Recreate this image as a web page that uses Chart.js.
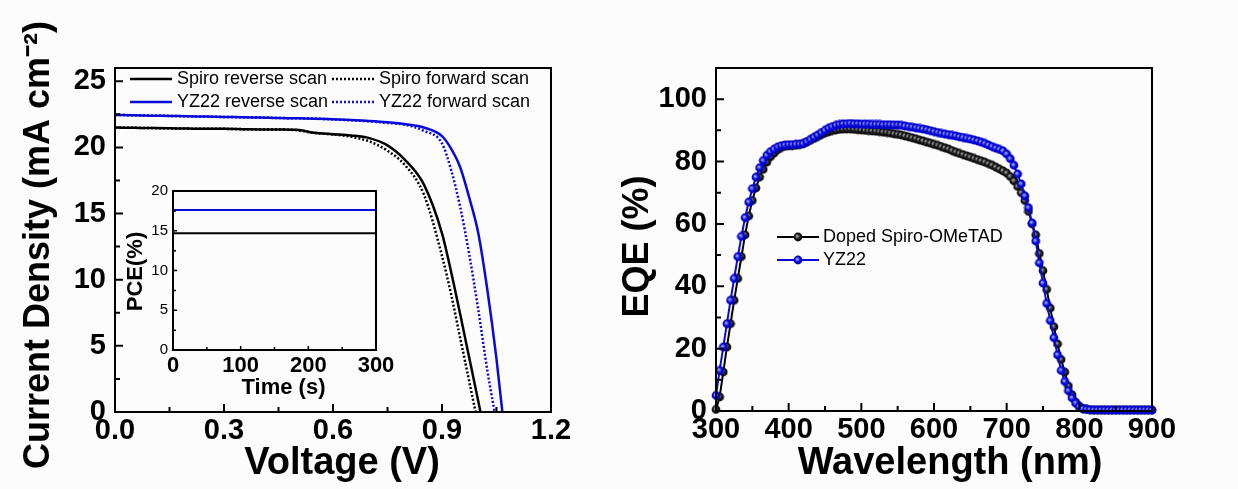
<!DOCTYPE html>
<html lang="en">
<head>
<meta charset="UTF-8">
<title>J-V and EQE – Spiro vs YZ22</title>
<script src="https://cdn.jsdelivr.net/npm/chart.js"></script>
<style>
    body {
        margin: 0;
        background: #fcfcfc;
        width: 1238px;
        height: 489px;
        overflow: hidden;
        position: relative;
    }
    canvas { position: absolute; }
    #jvCanvas { left: 0; top: 0; }
    #insetCanvas { left: 100px; top: 170px; }
    #eqeCanvas { left: 600px; top: 0; }
</style>
</head>
<body>
<canvas id="jvCanvas" width="600" height="489"></canvas>
<canvas id="insetCanvas" width="300" height="240"></canvas>
<canvas id="eqeCanvas" width="638" height="489"></canvas>

<script>
const FONT = "'Liberation Sans', Arial, sans-serif";
const BLUE = '#0a0ad8';

// J-V curves (V, mA cm-2)
const voltage      = [0, 0.05, 0.1, 0.15, 0.2, 0.25, 0.3, 0.35, 0.4, 0.45, 0.5, 0.55, 0.6, 0.65, 0.7, 0.75, 0.8, 0.85, 0.9, 0.925, 0.95, 0.975, 1.0, 1.025, 1.05, 1.075, 1.1];
const spiroReverse = [21.5, 21.48, 21.46, 21.44, 21.42, 21.4, 21.4, 21.38, 21.36, 21.35, 21.33, 21.1, 21.0, 20.9, 20.7, 20.15, 19.0, 17.2, 13.5, 10.6, 7.4, 4.1, 0.8, -2.6, -6, -9.5, -13];
const spiroForward = [21.5, 21.48, 21.46, 21.44, 21.42, 21.4, 21.4, 21.38, 21.36, 21.35, 21.3, 21.08, 20.98, 20.8, 20.45, 19.75, 18.6, 16.45, 11.8, 8.9, 5.6, 2.3, -1.0, -4.4, -8, -11.5, -15];
const yz22Reverse  = [22.45, 22.43, 22.4, 22.38, 22.35, 22.33, 22.3, 22.28, 22.25, 22.22, 22.2, 22.17, 22.12, 22.07, 22.0, 21.9, 21.75, 21.5, 20.85, 19.9, 18.5, 16.2, 13.5, 9.2, 4.0, -2.2, -9];
const yz22Forward  = [22.45, 22.43, 22.4, 22.38, 22.35, 22.33, 22.3, 22.28, 22.25, 22.22, 22.2, 22.17, 22.12, 22.05, 21.97, 21.85, 21.7, 21.25, 20.3, 18.3, 15.5, 11.9, 7.7, 3.1, -0.8, -5, -10];

// inset: stabilised PCE (%)
const time     = [0, 50, 100, 150, 200, 250, 300];
const pceYZ22  = [17.6, 17.6, 17.6, 17.6, 17.6, 17.6, 17.6];
const pceSpiro = [14.7, 14.7, 14.7, 14.7, 14.7, 14.7, 14.7];

// EQE (%)
const wavelength = [300, 305, 310, 315, 320, 325, 330, 335, 340, 345, 350, 355, 360, 365, 370, 375, 380, 385, 390, 395,
    400, 405, 410, 415, 420, 425, 430, 435, 440, 445, 450, 455, 460, 465, 470, 475, 480, 485, 490, 495,
    500, 505, 510, 515, 520, 525, 530, 535, 540, 545, 550, 555, 560, 565, 570, 575, 580, 585, 590, 595,
    600, 605, 610, 615, 620, 625, 630, 635, 640, 645, 650, 655, 660, 665, 670, 675, 680, 685, 690, 695,
    700, 705, 710, 715, 720, 725, 730, 735, 740, 745, 750, 755, 760, 765, 770, 775, 780, 785, 790, 795,
    800, 805, 810, 815, 820, 825, 830, 835, 840, 845, 850, 855, 860, 865, 870, 875, 880, 885, 890, 895, 900];
const eqeSpiro = [0.5, 4.5, 12.5, 20.5, 28, 35.5, 42.5, 49.5, 56.5, 62.5, 67.5, 71.5, 75, 77.5, 79.8, 81.5, 82.7, 83.8, 84.5, 84.9,
    85, 85.1, 85.2, 85.4, 85.7, 86.2, 86.8, 87.4, 88, 88.6, 89.1, 89.5, 89.9, 90.1, 90.3, 90.4, 90.4, 90.4, 90.3, 90.2,
    90.1, 90, 89.9, 89.8, 89.7, 89.6, 89.4, 89.3, 89.1, 88.9, 88.7, 88.5, 88.2, 87.9, 87.6, 87.3, 86.9, 86.6, 86.2, 85.9,
    85.5, 85.2, 84.8, 84.4, 84, 83.5, 83, 82.6, 82.2, 81.8, 81.4, 81, 80.6, 80.2, 79.8, 79.3, 78.8, 78.2, 77.6, 77,
    76.3, 75.2, 73.8, 72, 70, 67.5, 64, 60, 56.5, 50.5, 45, 39, 33, 27, 21.5, 16.5, 12.5, 8, 5.2, 2.8,
    1.5, 0.8, 0.5, 0.4, 0.3, 0.3, 0.3, 0.3, 0.3, 0.3, 0.3, 0.3, 0.3, 0.3, 0.3, 0.3, 0.3, 0.3, 0.3, 0.3, 0.3];
const eqeYZ22 = [5, 13, 20.5, 28, 35.5, 42.5, 49.5, 56, 62, 67, 71.3, 75, 78, 80.3, 82, 83.2, 84, 84.7, 85.1, 85.3,
    85.4, 85.4, 85.5, 85.6, 85.8, 86.4, 87.1, 87.8, 88.5, 89.3, 90, 90.7, 91.2, 91.6, 91.9, 92.1, 92.1, 92.2, 92.1, 92.1,
    92, 92, 92, 91.9, 91.9, 91.9, 91.8, 91.8, 91.8, 91.7, 91.7, 91.6, 91.4, 91.2, 91, 90.8, 90.6, 90.4, 90.2, 89.9,
    89.6, 89.3, 89, 88.8, 88.6, 88.4, 88.2, 87.9, 87.7, 87.4, 87.2, 86.9, 86.6, 86.2, 85.8, 85.3, 84.8, 84.3, 83.9, 83.4,
    82.4, 80.9, 78.8, 76, 72.8, 69, 65.2, 60.3, 54.5, 47.5, 41, 34.5, 29, 23.5, 18, 13, 9.5, 6.5, 4.2, 2.5,
    1.4, 0.7, 0.5, 0.4, 0.3, 0.3, 0.3, 0.3, 0.3, 0.3, 0.3, 0.3, 0.3, 0.3, 0.3, 0.3, 0.3, 0.3, 0.3, 0.3, 0.3];

Chart.defaults.font.family = FONT;
Chart.defaults.color = '#000';

const xy = (xs, ys) => xs.map((x, i) => ({ x: x, y: ys[i] }));

// shaded ball used as marker on the EQE curves
function ball(edge, light) {
    const c = document.createElement('canvas');
    c.width = c.height = 10;
    const g = c.getContext('2d');
    const grad = g.createRadialGradient(4, 4, 0.3, 5, 5, 4.6);
    grad.addColorStop(0, light);
    grad.addColorStop(0.55, edge);
    grad.addColorStop(1, edge);
    g.fillStyle = grad;
    g.beginPath();
    g.arc(5, 5, 4.4, 0, Math.PI * 2);
    g.fill();
    return c;
}

// box around the plot + inward major/minor ticks
const frameTicks = {
    id: 'frameTicks',
    afterDatasetsDraw(chart, args, o) {
        const { ctx, chartArea: a } = chart;
        const xs = chart.scales.x, ys = chart.scales.y;
        ctx.save();
        ctx.strokeStyle = '#000';
        ctx.lineWidth = o.tickWidth;
        ctx.beginPath();
        for (let i = 0; xs.min + i * o.xStep <= xs.max + 1e-9; i++) {
            const px = xs.getPixelForValue(xs.min + i * o.xStep);
            ctx.moveTo(px, a.bottom);
            ctx.lineTo(px, a.bottom - (i % 2 === 0 ? o.major : o.minor));
        }
        for (let i = 0; ys.min + i * o.yStep <= ys.max + 1e-9; i++) {
            const py = ys.getPixelForValue(ys.min + i * o.yStep);
            ctx.moveTo(a.left, py);
            ctx.lineTo(a.left + (i % 2 === 0 ? o.major : o.minor), py);
        }
        ctx.stroke();
        ctx.lineWidth = o.frameWidth;
        ctx.strokeRect(a.left, a.top, a.right - a.left, a.bottom - a.top);
        ctx.restore();
    }
};

// axis titles, placed against the plot area
const axisTitles = {
    id: 'axisTitles',
    afterDraw(chart, args, o) {
        const { ctx, chartArea: a } = chart;
        ctx.save();
        ctx.fillStyle = '#000';
        ctx.textAlign = 'center';
        ctx.textBaseline = 'middle';
        ctx.font = 'bold ' + o.xSize + 'px ' + FONT;
        ctx.fillText(o.x, (a.left + a.right) / 2 + o.xShift, o.xMid);
        ctx.translate(o.yMid, (a.top + a.bottom) / 2 + o.yShift);
        ctx.rotate(-Math.PI / 2);
        ctx.font = 'bold ' + o.ySize + 'px ' + FONT;
        ctx.fillText(o.y, 0, 0);
        ctx.restore();
    }
};

// legend drawn inside the plot area
const insideLegend = {
    id: 'insideLegend',
    afterDraw(chart, args, o) {
        if (!o.cells) return;
        const { ctx, chartArea: a } = chart;
        ctx.save();
        ctx.font = o.size + 'px ' + FONT;
        ctx.textBaseline = 'middle';
        chart.data.datasets.forEach((ds, i) => {
            const x = a.left + o.cells[i][0];
            const y = a.top + o.cells[i][1];
            ctx.strokeStyle = ds.borderColor;
            ctx.lineWidth = ds.borderWidth;
            ctx.setLineDash(ds.borderDash || []);
            ctx.beginPath();
            ctx.moveTo(x, y);
            ctx.lineTo(x + o.sample, y);
            ctx.stroke();
            ctx.setLineDash([]);
            if (ds.pointStyle instanceof HTMLCanvasElement) {
                ctx.drawImage(ds.pointStyle, x + o.sample / 2 - 5, y - 5);
            }
            ctx.fillStyle = '#000';
            ctx.fillText(ds.label, x + o.sample + o.gap, y);
        });
        ctx.restore();
    }
};

Chart.register(frameTicks, axisTitles, insideLegend);

function axis(min, max, step, fontSize, weight, pad, fmt, fixed, horizontal) {
    return {
        type: 'linear', min: min, max: max,
        grid: { display: false, drawTicks: false }, border: { display: false },
        ticks: {
            stepSize: step, includeBounds: false, autoSkip: false, maxRotation: 0,
            padding: pad, font: { size: fontSize, weight: weight },
            callback: fmt
        },
        afterFit: s => { if (horizontal) s.height = fixed; else s.width = fixed; }
    };
}

function options(padding, scales, plugins) {
    return {
        responsive: false,
        animation: false,
        events: [],
        layout: { padding: padding },
        scales: scales,
        plugins: Object.assign({ legend: { display: false }, tooltip: { enabled: false } }, plugins)
    };
}

// J-V
new Chart(document.getElementById('jvCanvas'), {
    type: 'scatter',
    data: {
        datasets: [
            { label: 'Spiro reverse scan', data: xy(voltage, spiroReverse), borderColor: '#000' },
            { label: 'Spiro forward scan', data: xy(voltage, spiroForward), borderColor: '#000', borderDash: [2, 2] },
            { label: 'YZ22 reverse scan', data: xy(voltage, yz22Reverse), borderColor: BLUE },
            { label: 'YZ22 forward scan', data: xy(voltage, yz22Forward), borderColor: BLUE, borderDash: [2, 2] }
        ].map(d => Object.assign(d, { showLine: true, borderWidth: 2.5, pointRadius: 0, cubicInterpolationMode: 'monotone' }))
    },
    options: options({ left: 0, right: 49, top: 68, bottom: 0 }, {
        x: axis(0, 1.2, 0.3, 29, 'bold', 2, v => v.toFixed(1), 77, true),
        y: axis(0, 26, 5, 29, 'bold', 9, v => v, 115, false)
    }, {
        frameTicks: { xStep: 0.15, yStep: 2.5, major: 8, minor: 5, tickWidth: 2, frameWidth: 2 },
        axisTitles: { x: 'Voltage (V)', xSize: 38, xMid: 464, xShift: 9,
                      y: 'Current Density (mA cm\u207B\u00B2)', ySize: 36, yMid: 39, yShift: 5 },
        insideLegend: { size: 18, sample: 42, gap: 5, cells: [[15, 11], [217, 11], [15, 34], [217, 34]] }
    })
});

// inset PCE vs time
new Chart(document.getElementById('insetCanvas'), {
    type: 'scatter',
    data: {
        datasets: [
            { label: 'YZ22', data: xy(time, pceYZ22), borderColor: BLUE },
            { label: 'Spiro', data: xy(time, pceSpiro), borderColor: '#000' }
        ].map(d => Object.assign(d, { showLine: true, pointRadius: 0, borderWidth: 2 }))
    },
    options: options({ left: 0, right: 24, top: 21, bottom: 0 }, {
        x: axis(0, 300, 100, 22, 'bold', 3, v => v, 60, true),
        y: axis(0, 20, 5, 15, 'normal', 5, v => v, 73, false)
    }, {
        frameTicks: { xStep: 50, yStep: 2.5, major: 4, minor: 3, tickWidth: 1.5, frameWidth: 2 },
        axisTitles: { x: 'Time (s)', xSize: 22, xMid: 218, xShift: 9,
                      y: 'PCE(%)', ySize: 22, yMid: 36, yShift: 1 },
        insideLegend: {}
    })
});

// EQE
new Chart(document.getElementById('eqeCanvas'), {
    type: 'scatter',
    data: {
        datasets: [
            { label: 'Doped Spiro-OMeTAD', data: xy(wavelength, eqeSpiro), borderColor: '#000', pointStyle: ball('#111111', '#a8a8a8'), order: 1 },
            { label: 'YZ22', data: xy(wavelength, eqeYZ22), borderColor: BLUE, pointStyle: ball('#0000d0', '#a9b0ff'), order: 0 }
        ].map(d => Object.assign(d, { showLine: true, borderWidth: 2, pointRadius: 4.5, clip: 6 }))
    },
    options: options({ left: 0, right: 86, top: 68, bottom: 0 }, {
        x: axis(300, 900, 100, 29, 'bold', 2, v => v, 78, true),
        y: axis(0, 110, 20, 29, 'bold', 9, v => v, 116, false)
    }, {
        frameTicks: { xStep: 50, yStep: 10, major: 8, minor: 5, tickWidth: 2, frameWidth: 2 },
        axisTitles: { x: 'Wavelength (nm)', xSize: 38, xMid: 464, xShift: 16,
                      y: 'EQE (%)', ySize: 36, yMid: 38, yShift: 7 },
        insideLegend: { size: 18, sample: 42, gap: 4, cells: [[61, 169], [61, 192]] }
    })
});
</script>
</body>
</html>
